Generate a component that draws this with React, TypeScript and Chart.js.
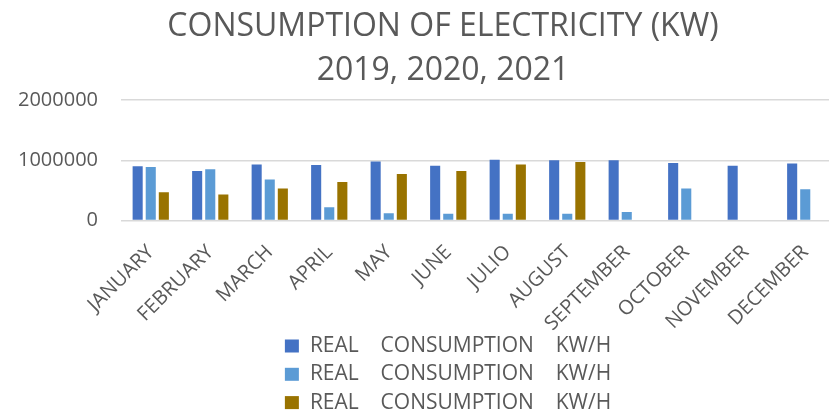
import React, { useEffect, useRef } from "react";
import { Chart, registerables } from "chart.js";

Chart.register(...registerables);

const months = [
  "JANUARY", "FEBRUARY", "MARCH", "APRIL", "MAY", "JUNE",
  "JULIO", "AUGUST", "SEPTEMBER", "OCTOBER", "NOVEMBER", "DECEMBER",
];
const series2019 = [900000, 820000, 930000, 920000, 980000, 910000, 1010000, 1000000, 1000000, 955000, 910000, 945000];
const series2020 = [890000, 850000, 680000, 220000, 120000, 110000, 110000, 110000, 140000, 530000, null, 520000];
const series2021 = [470000, 430000, 530000, 640000, 770000, 820000, 930000, 970000, null, null, null, null];
const seriesLabel = "REAL    CONSUMPTION    KW/H";
const titleLines = ["CONSUMPTION OF ELECTRICITY (KW)", "2019, 2020, 2021"];
const colors = ["#4472C4", "#5B9BD5", "#997300"];

const FONT = "'Open Sans', 'Noto Sans', sans-serif";
const TEXT = "#595959";

const legendPlugin = {
  id: "stackedLegend",
  afterDraw(chart: any) {
    const ctx = chart.ctx;
    ctx.save();
    ctx.font = `21px ${FONT}`;
    ctx.textBaseline = "middle";
    ctx.textAlign = "left";
    const ds = chart.data.datasets;
    ds.forEach((d: any, i: number) => {
      const tw = ctx.measureText(d.label).width;
      const total = 14 + 11 + tw;
      const left = chart.width / 2 + 5 - total / 2;
      const y = chart.height - 69 + i * 28.3;
      ctx.fillStyle = d.backgroundColor;
      ctx.fillRect(left, y - 6.5, 14, 13);
      ctx.fillStyle = TEXT;
      ctx.fillText(d.label, left + 25, y);
    });
    ctx.restore();
  },
};

export default function App() {
  const ref = useRef<HTMLCanvasElement | null>(null);

  useEffect(() => {
    if (!ref.current) return;
    const chart = new Chart(ref.current, {
      type: "bar",
      data: {
        labels: months,
        datasets: [series2019, series2020, series2021].map((s, i) => ({
          label: seriesLabel,
          data: s,
          backgroundColor: colors[i],
          borderWidth: 0,
          categoryPercentage: 0.66,
          barPercentage: 0.77,
          yAxisID: "y",
        })),
      },
      options: {
        animation: false,
        responsive: true,
        maintainAspectRatio: false,
        layout: { padding: { top: 0, left: 0, right: 0, bottom: 84.5 } },
        plugins: {
          legend: { display: false },
          tooltip: { enabled: false },
          title: {
            display: true,
            text: titleLines,
            color: TEXT,
            font: { family: FONT, size: 32, weight: "normal", lineHeight: 1.375 },
            padding: { top: 5, bottom: 7 },
          },
        },
        scales: {
          x: {
            grid: { display: false },
            border: { display: false },
            ticks: {
              autoSkip: false,
              maxRotation: 45,
              minRotation: 45,
              padding: 12,
              color: TEXT,
              font: { family: FONT, size: 20 },
            },
            afterFit: (s: any) => { s.height = 110; },
          },
          y: {
            min: 0,
            max: 2000000,
            position: "left",
            grid: { color: "#d9d9d9", lineWidth: 1.5, drawTicks: false },
            border: { display: false },
            ticks: {
              stepSize: 1000000,
              padding: 23,
              color: TEXT,
              font: { family: FONT, size: 20 },
              callback: (v: any) => String(v),
            },
            afterFit: (s: any) => { s.width = 121; },
          },
          y2: {
            position: "right",
            display: true,
            grid: { display: false },
            border: { display: false },
            ticks: { display: false },
            afterFit: (s: any) => { s.width = 51; },
          },
        },
      },
      plugins: [legendPlugin],
    });
    return () => chart.destroy();
  }, []);

  return (
    <div style={{ position: "fixed", left: 0, top: 0, width: 829, height: 415, overflow: "hidden", background: "#fff" }}>
      <div style={{ position: "relative", width: 886, height: 415 }}>
        <canvas ref={ref} />
      </div>
    </div>
  );
}
